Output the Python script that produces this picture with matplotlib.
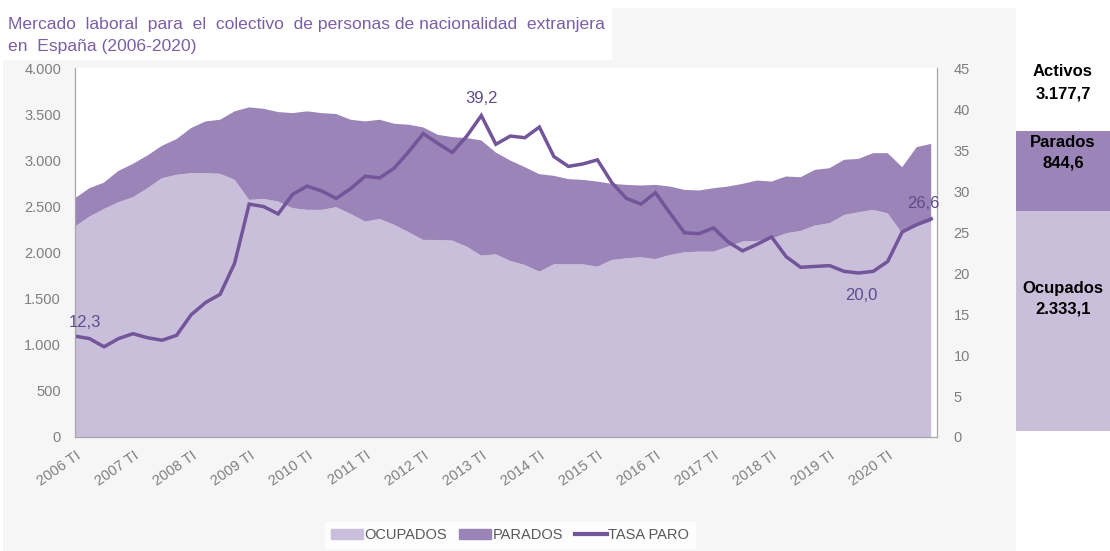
import matplotlib.pyplot as plt
from matplotlib.patches import Patch, Rectangle
from matplotlib.lines import Line2D

plt.rcParams['font.family'] = ['Liberation Sans Narrow', 'Liberation Sans', 'DejaVu Sans']

# datos trimestrales 2006 TI - 2020 TIV (miles de personas, %)
years = list(range(2006, 2021))
quarters = [f"{y} T{q}" for y in years for q in ["I", "II", "III", "IV"]]

ocupados = [2281, 2389, 2472, 2545, 2599, 2697, 2806, 2842, 2860, 2860,
            2853, 2788, 2570, 2581, 2552, 2480, 2462, 2462, 2491, 2418,
            2335, 2364, 2299, 2219, 2136, 2136, 2129, 2063, 1966, 1980,
            1908, 1864, 1792, 1872, 1872, 1872, 1846, 1919, 1937, 1948,
            1929, 1973, 2002, 2009, 2009, 2063, 2118, 2125, 2147, 2208,
            2234, 2292, 2317, 2407, 2436, 2462, 2425, 2208, 2281, 2333.1]
parados = [307, 308, 286, 340, 362, 355, 351, 387, 489, 561,
           586, 742, 1003, 977, 970, 1031, 1068, 1049, 1010, 1021,
           1086, 1075, 1097, 1166, 1220, 1140, 1122, 1177, 1249, 1104,
           1089, 1061, 1057, 959, 923, 915, 923, 825, 796, 778,
           804, 742, 677, 663, 688, 652, 626, 655, 622, 616,
           582, 604, 597, 598, 579, 615, 652, 717, 861, 844.6]
tasa_paro = [12.3, 12.0, 11.0, 12.0, 12.6, 12.1, 11.8, 12.4, 14.9, 16.4,
             17.4, 21.2, 28.4, 28.1, 27.2, 29.6, 30.6, 30.0, 29.1, 30.3,
             31.8, 31.6, 32.8, 34.8, 37.0, 35.8, 34.7, 36.7, 39.2, 35.7,
             36.7, 36.5, 37.8, 34.2, 33.0, 33.3, 33.8, 31.0, 29.1, 28.4,
             29.8, 27.3, 24.9, 24.8, 25.5, 23.8, 22.7, 23.5, 24.4, 22.0,
             20.7, 20.8, 20.9, 20.2, 20.0, 20.2, 21.4, 25.0, 25.9, 26.6]
labelled = {0: "12,3", 28: "39,2", 54: "20,0", 59: "26,6"}

activos_last = 3177.7
last_labels = ["Ocupados\n2.333,1", "Parados\n844,6"]

c_ocup = '#c9bfdb'
c_par = '#9b84b7'
c_line = '#73559a'
c_txt = '#7f7f7f'

fig = plt.figure(figsize=(11.1, 5.51), dpi=100, facecolor='white')
fig.patches.append(Rectangle((3 / 1110, 0), 1013 / 1110, 543 / 551, transform=fig.transFigure,
                             facecolor='#f6f6f6', edgecolor='none', zorder=-5))
fig.patches.append(Rectangle((0, 491 / 551), 612 / 1110, 52 / 551, transform=fig.transFigure,
                             facecolor='white', edgecolor='none', zorder=-4))

fig.text(8 / 1110, 1 - 25 / 551, "Mercado  laboral  para  el  colectivo  de personas de nacionalidad  extranjera",
         family='Liberation Sans', fontsize=12.6, color='#7b5fa6', va='center')
fig.text(8 / 1110, 1 - 46 / 551, "en  España (2006-2020)",
         family='Liberation Sans', fontsize=12.6, color='#7b5fa6', va='center')

ax = fig.add_axes([75 / 1110, 1 - 437 / 551, 862 / 1110, 369 / 551])
ax.set_zorder(2)
ax.set_facecolor('white')
x = list(range(len(quarters)))
ax.stackplot(x, ocupados, parados, colors=[c_ocup, c_par], linewidth=0)
ax.set_xlim(0, 59.4)
ax.set_ylim(0, 4000)
ax.set_yticks(range(0, 4001, 500))
ax.set_yticklabels([f"{v:,}".replace(",", ".") for v in range(0, 4001, 500)])
ax.set_xticks(x[::4])
ax.set_xticklabels(quarters[::4], rotation=35, ha='right', rotation_mode='anchor')
ax.tick_params(axis='both', length=0, colors=c_txt, labelsize=10.5)
ax.tick_params(axis='y', pad=10)
ax.tick_params(axis='x', pad=8)
ax.spines['top'].set_visible(False)
for s in ['left', 'bottom', 'right']:
    ax.spines[s].set_color('#a6a6a6')

ax2 = ax.twinx()
ax2.set_zorder(3)
ax2.plot(x, tasa_paro, color=c_line, lw=2.5, solid_joinstyle='miter')
ax2.set_ylim(0, 45)
ax2.set_yticks(range(0, 46, 5))
ax2.tick_params(axis='y', length=0, colors=c_txt, labelsize=10.5, pad=12)
ax2.spines['top'].set_visible(False)
for s in ['left', 'bottom', 'right']:
    ax2.spines[s].set_color('#a6a6a6')
offsets = {0: (7, 10), 28: (0, 12), 54: (2, -16), 59: (-6, 11)}
for i, txt in labelled.items():
    dx, dy = offsets[i]
    ax2.annotate(txt, (x[i], tasa_paro[i]), xytext=(dx, dy), textcoords='offset points',
                 ha='center', va='center', fontsize=12, color='#5f4b8b',
                 family='Liberation Sans')

# columna final
axb = fig.add_axes([1016 / 1110, 1 - 431 / 551, 94 / 1110, 300 / 551])
axb.bar([0], [ocupados[-1]], width=1, color=c_ocup)
axb.bar([0], [parados[-1]], bottom=[ocupados[-1]], width=1, color=c_par)
axb.set_xlim(-0.5, 0.5)
axb.set_ylim(0, activos_last)
axb.axis('off')
axb.text(0, ocupados[-1] * 0.6, last_labels[0], ha='center', va='center',
         fontsize=12, fontweight='bold', linespacing=1.5)
axb.text(0, activos_last - 230, last_labels[1], ha='center', va='center',
         fontsize=12, fontweight='bold', linespacing=1.5)
fig.text(1063 / 1110, 1 - 83 / 551, "Activos\n" + f"{activos_last:,.1f}".replace(",", "X").replace(".", ",").replace("X", "."),
         ha='center', va='center', fontsize=12, fontweight='bold', linespacing=1.6)

handles = [Patch(color=c_ocup), Patch(color=c_par), Line2D([], [], color=c_line, lw=3)]
leg = fig.legend(handles, ['OCUPADOS', 'PARADOS', 'TASA PARO'], loc='center',
                 bbox_to_anchor=(510 / 1110, 1 - 535 / 551), ncol=3, frameon=True,
                 fancybox=False, edgecolor='white', facecolor='white', fontsize=10.5,
                 handlelength=2.2, handletextpad=0.1, columnspacing=0.8, borderpad=0.4)
for t in leg.get_texts():
    t.set_color('#595959')

fig.savefig('out.png', dpi=100, facecolor=fig.get_facecolor())
